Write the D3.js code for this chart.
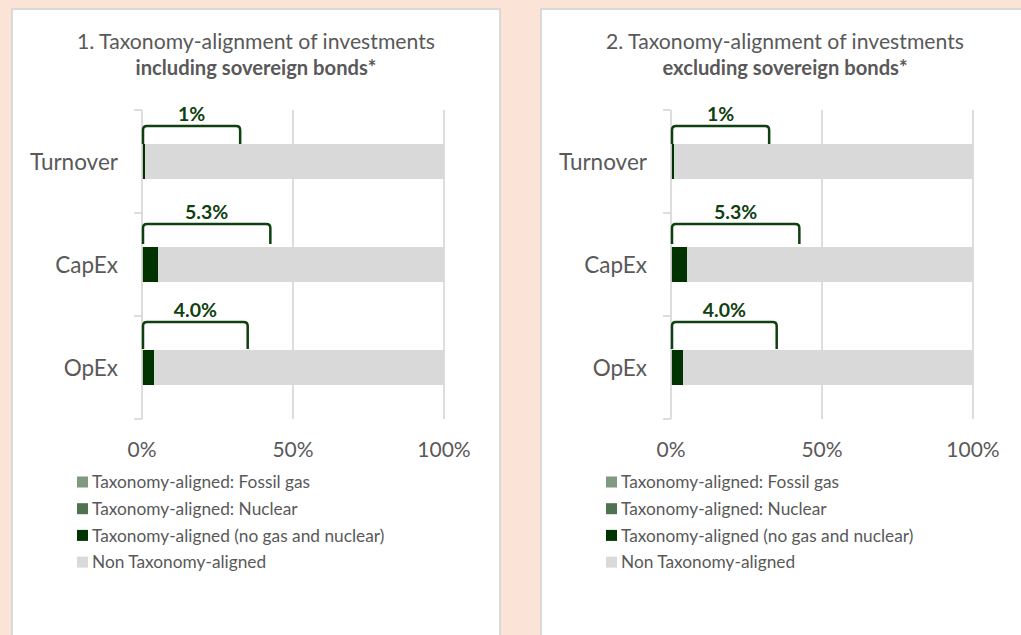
<!DOCTYPE html>
<html>
<head>
<meta charset="utf-8">
<script src="https://cdn.jsdelivr.net/npm/d3@7"></script>
<style>
  html, body { margin: 0; padding: 0; background: #fbe4d7; }
  svg { display: block; }
  text { font-family: Lato, "Open Sans", sans-serif; }
</style>
</head>
<body>
<svg id="chart" width="1021" height="635"></svg>
<script>
// ---------- data ----------
const categories = ["Turnover", "CapEx", "OpEx"];
const tickValues = [0, 50, 100];
const seriesNames = [
  "Taxonomy-aligned: Fossil gas",
  "Taxonomy-aligned: Nuclear",
  "Taxonomy-aligned (no gas and nuclear)",
  "Non Taxonomy-aligned"
];
const seriesColors = ["#7f9a80", "#4d7350", "#003300", "#d9d9d9"];

const titles1 = ["1. Taxonomy-alignment of investments", "including sovereign bonds*"];
const fossilGas1 = [0, 0, 0];
const nuclear1 = [0, 0, 0];
const alignedOther1 = [1.0, 5.3, 4.0];
const nonAligned1 = [99.0, 94.7, 96.0];
const alignedLabels1 = ["1%", "5.3%", "4.0%"];

const titles2 = ["2. Taxonomy-alignment of investments", "excluding sovereign bonds*"];
const fossilGas2 = [0, 0, 0];
const nuclear2 = [0, 0, 0];
const alignedOther2 = [1.0, 5.3, 4.0];
const nonAligned2 = [99.0, 94.7, 96.0];
const alignedLabels2 = ["1%", "5.3%", "4.0%"];

// ---------- annotation layout (bracket shapes, in axis % and px) ----------
const bracketEnd = [32.5, 42.5, 35.0];   // right end of bracket, in % of axis
const bracketRise = [18, 23, 28];        // bracket top above bar top (px)
const bracketGap = [0, 3, 1];            // leg end above bar top (px)

const panels = [
  { x: 12, titles: titles1, series: [fossilGas1, nuclear1, alignedOther1, nonAligned1], labels: alignedLabels1 },
  { x: 541, titles: titles2, series: [fossilGas2, nuclear2, alignedOther2, nonAligned2], labels: alignedLabels2 }
];

const svg = d3.select("#chart");
const textColor = "#595959";
const green = "#0f400f";
const gridColor = "#d9d9d9";

panels.forEach(p => {
  const g = svg.append("g").attr("transform", `translate(${p.x},0)`);
  const pw = 488;

  g.append("rect")
    .attr("x", 0).attr("y", 9).attr("width", pw).attr("height", 700)
    .attr("fill", "#ffffff").attr("stroke", "#d9d9d9").attr("stroke-width", 2);

  // titles
  g.append("text").attr("x", pw / 2).attr("y", 49).attr("text-anchor", "middle")
    .attr("fill", textColor).style("font-size", "21.2px").text(p.titles[0]);
  g.append("text").attr("x", pw / 2).attr("y", 75).attr("text-anchor", "middle")
    .attr("fill", textColor).style("font-size", "20.2px").style("font-weight", "bold").text(p.titles[1]);

  const x = d3.scaleLinear().domain([0, 100]).range([130, 432]);
  const y = d3.scaleBand().domain(categories).range([110, 419]).paddingInner(0.66).paddingOuter(0.33);
  const step = y.step();

  // gridlines
  g.selectAll("line.grid").data(tickValues.filter(v => v > 0)).join("line")
    .attr("class", "grid")
    .attr("x1", d => x(d)).attr("x2", d => x(d))
    .attr("y1", 110).attr("y2", 419)
    .attr("stroke", gridColor).attr("stroke-width", 1.75);

  // stacked bars
  const rows = categories.map((c, i) => {
    const o = { cat: c };
    seriesNames.forEach((s, k) => o[s] = p.series[k][i]);
    return o;
  });
  const stack = d3.stack().keys(seriesNames)(rows);
  stack.forEach((layer, k) => {
    g.selectAll(null).data(layer).join("rect")
      .attr("x", d => x(d[0]))
      .attr("width", d => Math.max(0, x(d[1]) - x(d[0])))
      .attr("y", d => y(d.data.cat))
      .attr("height", y.bandwidth())
      .attr("fill", seriesColors[k]);
  });

  // category axis (line + boundary ticks)
  g.append("line").attr("x1", x(0)).attr("x2", x(0)).attr("y1", 110).attr("y2", 419)
    .attr("stroke", gridColor).attr("stroke-width", 1.75);
  const bounds = categories.map(c => y(c) - (step - y.bandwidth()) / 2).concat([419]);
  g.selectAll("line.tk").data(bounds).join("line").attr("class", "tk")
    .attr("x1", x(0) - 8).attr("x2", x(0)).attr("y1", d => d).attr("y2", d => d)
    .attr("stroke", gridColor).attr("stroke-width", 1.75);

  g.selectAll("text.cat").data(categories).join("text").attr("class", "cat")
    .attr("x", 106).attr("y", d => y(d) + y.bandwidth() / 2).attr("dy", "0.36em")
    .attr("text-anchor", "end").attr("fill", textColor).style("font-size", "22.5px")
    .text(d => d);

  // value axis tick labels
  g.selectAll("text.tick").data(tickValues).join("text").attr("class", "tick")
    .attr("x", d => x(d)).attr("y", 457).attr("text-anchor", "middle")
    .attr("fill", textColor).style("font-size", "21px")
    .text(d => d + "%");

  // brackets + labels
  categories.forEach((c, i) => {
    const barTop = y(c);
    const top = barTop - bracketRise[i];
    const legEnd = barTop - bracketGap[i];
    const x0 = x(0) + 1, x1 = x(bracketEnd[i]);
    const r = 4;
    const path = `M${x0},${legEnd} L${x0},${top + r} Q${x0},${top} ${x0 + r},${top} L${x1 - r},${top} Q${x1},${top} ${x1},${top + r} L${x1},${legEnd}`;
    g.append("path").attr("d", path).attr("fill", "none")
      .attr("stroke", green).attr("stroke-width", 2.5);
    g.append("text").attr("x", (x0 + x1) / 2).attr("y", top - 5)
      .attr("text-anchor", "middle").attr("fill", green)
      .style("font-size", "19.5px").style("font-weight", "bold")
      .text(p.labels[i]);
  });

  // legend
  const lg = g.append("g");
  seriesNames.forEach((s, k) => {
    const cy = 482 + k * 26.7;
    lg.append("rect").attr("x", 65).attr("y", cy - 5.5).attr("width", 11).attr("height", 11)
      .attr("fill", seriesColors[k]);
    lg.append("text").attr("x", 80).attr("y", cy).attr("dy", "0.36em")
      .attr("fill", textColor).style("font-size", "17.3px").text(s);
  });
});
</script>
</body>
</html>
